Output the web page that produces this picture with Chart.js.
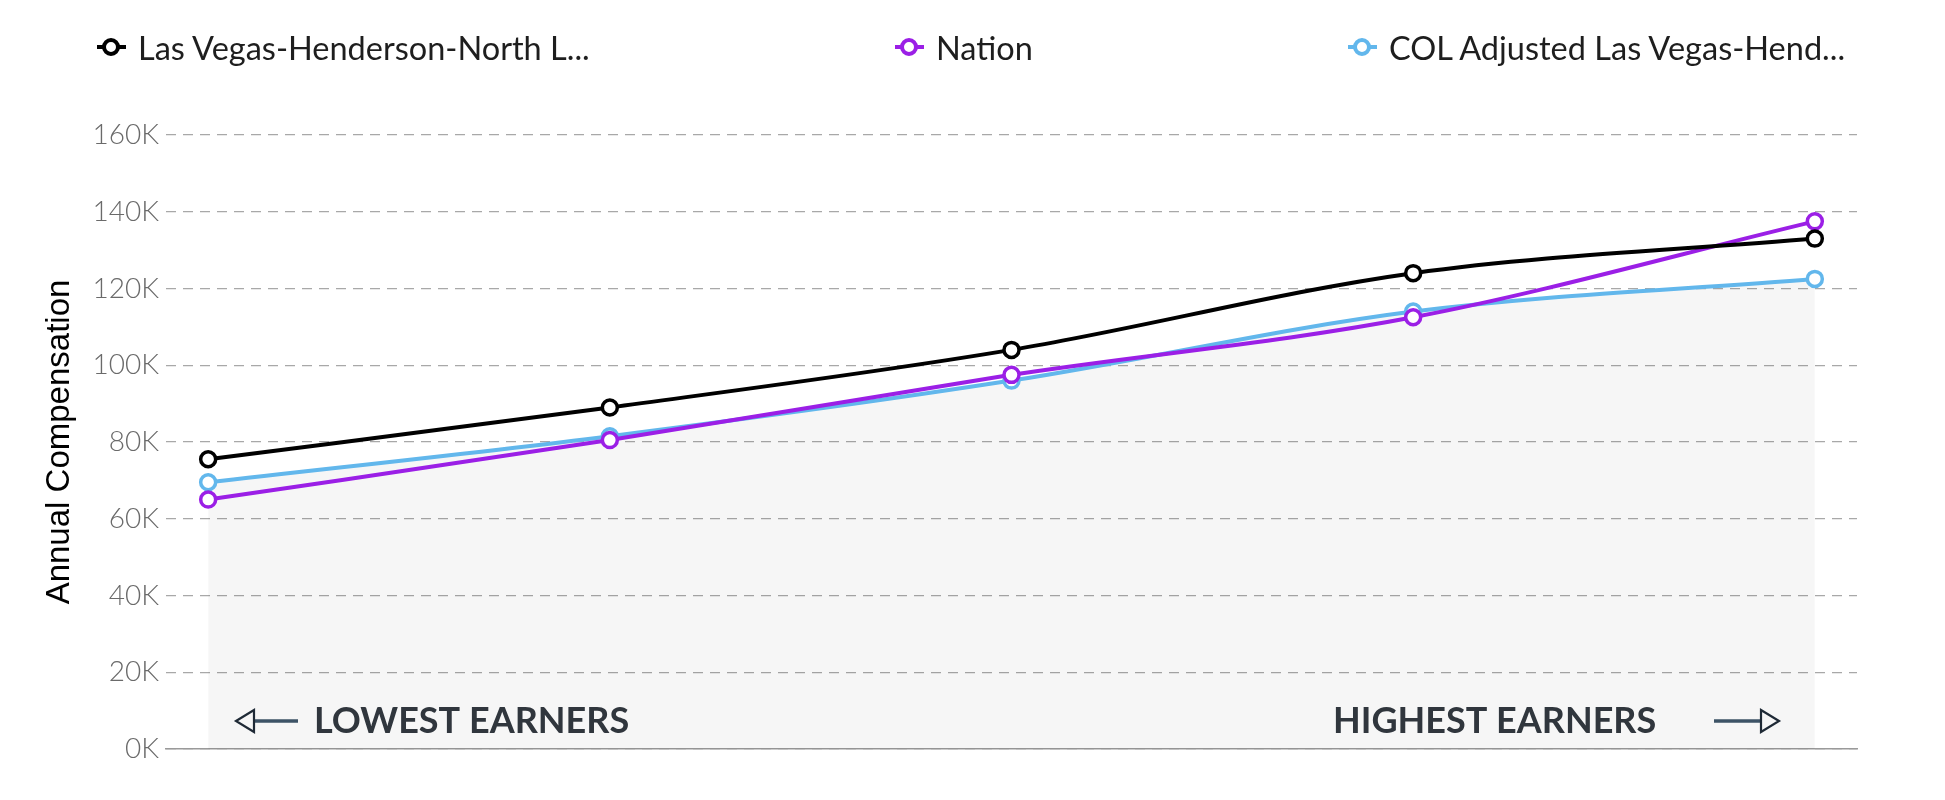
<!DOCTYPE html>
<html>
<head>
<meta charset="utf-8">
<script src="https://cdn.jsdelivr.net/npm/chart.js@4.4.1/dist/chart.umd.min.js"></script>
<style>
  body { margin: 0; background: #fff; }
  #wrap { position: relative; width: 1945px; height: 800px; }
  #legend { position: absolute; top: 0; left: 0; width: 1945px; height: 90px; font-family: Lato, sans-serif; font-size: 32.5px; color: #1e1e1e; }
  .item { position: absolute; top: 28px; height: 38px; display: flex; align-items: center; white-space: nowrap; }
  .sym { position: relative; width: 29px; height: 20px; margin-right: 12px; }
  .sym .bar { position: absolute; left: 0; right: 0; top: 8px; height: 4px; }
  .sym .dot { position: absolute; left: 5px; top: 1px; width: 10px; height: 10px; border: 4.5px solid; border-radius: 50%; background: #fff; }
</style>
</head>
<body>
<div id="wrap">
  <canvas id="payChart" width="1945" height="800"></canvas>
  <div id="legend"></div>
</div>
<script>
// percentile positions, lowest to highest earners
const xPos = [0, 1, 2, 3, 4];
const metroPay = [75500, 89000, 104000, 124000, 133000];
const nationPay = [65000, 80500, 97500, 112500, 137500];
const colPay = [69500, 81500, 96000, 114000, 122500];

const seriesNames = ['Las Vegas-Henderson-North L...', 'Nation', 'COL Adjusted Las Vegas-Hend...'];
const seriesColors = ['#000000', '#9b1fe6', '#62b7ec'];
const legendLefts = [97, 895, 1348];

const yTicks = [0, 20000, 40000, 60000, 80000, 100000, 120000, 140000, 160000];
const yTitle = 'Annual Compensation';
const lowLabel = 'LOWEST EARNERS';
const highLabel = 'HIGHEST EARNERS';

function toPoints(vals) {
    return vals.map((v, i) => ({ x: xPos[i], y: v }));
}

function lineSet(label, vals, color, fill) {
    return {
        label: label,
        data: toPoints(vals),
        borderColor: color,
        backgroundColor: fill ? 'rgba(0,0,0,0.035)' : color,
        fill: fill ? 'origin' : false,
        borderWidth: 4,
        pointRadius: 7.5,
        pointBorderWidth: 3.5,
        pointBackgroundColor: '#ffffff',
        pointBorderColor: color,
        cubicInterpolationMode: 'monotone'
    };
}

function drawArrow(ctx, tail, tip, y) {
    var dir = tip > tail ? 1 : -1;
    var headLen = 18;
    ctx.beginPath();
    ctx.moveTo(tail, y);
    ctx.lineTo(tip - dir * headLen, y);
    ctx.lineWidth = 3.5;
    ctx.strokeStyle = '#3d5366';
    ctx.stroke();
    ctx.beginPath();
    ctx.moveTo(tip, y);
    ctx.lineTo(tip - dir * headLen, y - 11);
    ctx.lineTo(tip - dir * headLen, y + 11);
    ctx.closePath();
    ctx.lineWidth = 2.2;
    ctx.strokeStyle = '#1f2a36';
    ctx.stroke();
}

const earnersLabels = {
    id: 'earnersLabels',
    afterDatasetsDraw(chart) {
        const ctx = chart.ctx;
        const area = chart.chartArea;
        const y = area.bottom - 28;
        ctx.save();
        ctx.font = 'bold 36px Lato';
        ctx.fillStyle = '#30363d';
        ctx.textBaseline = 'middle';
        ctx.textAlign = 'left';
        ctx.fillText(lowLabel, 314, y);
        ctx.fillText(highLabel, 1333, y);
        drawArrow(ctx, 298, 236, y);
        drawArrow(ctx, 1714, 1779, y);
        ctx.restore();
    }
};

let ctx = document.getElementById('payChart');
let payChart = new Chart(ctx, {
    type: 'line',
    data: {
        datasets: [
            lineSet(seriesNames[0], metroPay, seriesColors[0], false),
            lineSet(seriesNames[1], nationPay, seriesColors[1], false),
            lineSet(seriesNames[2], colPay, seriesColors[2], true)
        ]
    },
    options: {
        responsive: false,
        animation: false,
        devicePixelRatio: 1,
        layout: {
            padding: { top: 135, right: 88, bottom: 51, left: 0 }
        },
        plugins: {
            legend: { display: false },
            tooltip: { enabled: false }
        },
        scales: {
            x: {
                type: 'linear',
                min: -0.105,
                max: 4.105,
                ticks: { display: false },
                grid: { display: false, drawTicks: false },
                border: { display: true, color: '#9a9a9a', width: 1.5 },
                afterFit: function(scale) { scale.height = 0; }
            },
            y: {
                min: 0,
                max: 160000,
                afterBuildTicks: function(scale) {
                    scale.ticks = yTicks.map(v => ({ value: v }));
                },
                ticks: {
                    padding: 7,
                    color: '#6a6a6a',
                    font: { family: 'Lato', size: 28, weight: 300 },
                    callback: v => (v / 1000) + 'K'
                },
                grid: {
                    drawTicks: false,
                    color: '#a8a8a8',
                    lineWidth: 1.2
                },
                border: { display: false, dash: [10, 7] },
                title: {
                    display: true,
                    text: yTitle,
                    color: '#000000',
                    font: { family: 'Liberation Sans', size: 33 },
                    padding: { top: 40, bottom: 0 }
                },
                afterFit: function(scale) { scale.width = 166; }
            }
        }
    },
    plugins: [earnersLabels]
});

// html legend, built from the same names and colours
var legendBox = document.getElementById('legend');
for (var i = 0; i < seriesNames.length; i++) {
    var item = document.createElement('div');
    item.className = 'item';
    item.style.left = legendLefts[i] + 'px';
    item.innerHTML = '<span class="sym"><span class="bar" style="background:' + seriesColors[i] +
        '"></span><span class="dot" style="border-color:' + seriesColors[i] + '"></span></span>' +
        '<span>' + seriesNames[i] + '</span>';
    legendBox.appendChild(item);
}
</script>
</body>
</html>
